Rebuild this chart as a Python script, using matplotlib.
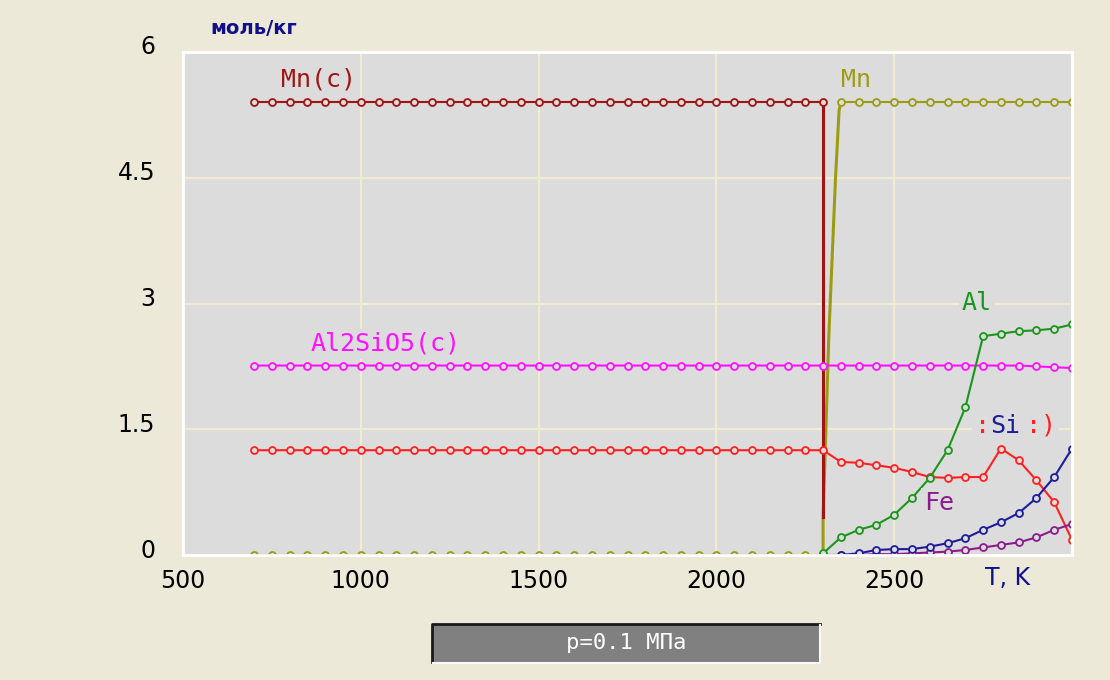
import matplotlib
matplotlib.use("Agg")
import matplotlib.pyplot as plt
from matplotlib.patches import Rectangle
from matplotlib.lines import Line2D
from matplotlib.transforms import ScaledTranslation

# === DATA ===
# temperature grid, K
T_low = [700, 750, 800, 850, 900, 950, 1000, 1050, 1100, 1150, 1200, 1250,
         1300, 1350, 1400, 1450, 1500, 1550, 1600, 1650, 1700, 1750, 1800,
         1850, 1900, 1950, 2000, 2050, 2100, 2150, 2200, 2250, 2300]
T_high = [2300, 2350, 2400, 2450, 2500, 2550, 2600, 2650, 2700, 2750, 2800,
          2850, 2900, 2950, 3000]

# mol/kg
mn_c_low = [5.4] * len(T_low)
mn_c_drop_T = [2300, 2300]
mn_c_drop = [5.4, 0.45]

mn_low = [0.0] * len(T_low)
mn_jump_T = [2300, 2300, 2308, 2316, 2325, 2335, 2345, 2350]
mn_jump = [0.0, 0.45, 1.5, 2.6, 3.5, 4.5, 5.3, 5.4]
mn_high = [5.4] * (len(T_high) - 1)

al2sio5_low = [2.26] * len(T_low)
al2sio5_high = [2.26, 2.26, 2.26, 2.26, 2.26, 2.26, 2.26, 2.26, 2.26, 2.26,
                2.26, 2.26, 2.25, 2.24, 2.23]

sio_low = [1.25] * len(T_low)
sio_high = [1.24, 1.11, 1.10, 1.07, 1.04, 0.99, 0.93, 0.92, 0.93, 0.93,
            1.27, 1.13, 0.89, 0.63, 0.18]

al_high = [0.02, 0.21, 0.30, 0.36, 0.48, 0.68, 0.92, 1.25, 1.76, 2.61,
           2.64, 2.67, 2.68, 2.70, 2.75]
si_high = [0.0, 0.0, 0.02, 0.06, 0.07, 0.07, 0.10, 0.14, 0.20, 0.30,
           0.39, 0.50, 0.68, 0.93, 1.27]
fe_high = [0.0, 0.0, 0.0, 0.01, 0.01, 0.02, 0.03, 0.04, 0.06, 0.09,
           0.12, 0.15, 0.21, 0.30, 0.37]

x_ticks = [500, 1000, 1500, 2000, 2500, 3000]
x_tick_labels = ["500", "1000", "1500", "2000", "2500", ""]
y_ticks = [0, 1.5, 3, 4.5, 6]
y_tick_labels = ["0", "1.5", "3", "4.5", "6"]

# === STYLE ===
FIG_BG = "#ece9d8"
AX_BG = "#dcdcdc"
GRID = "#efecd2"
C_MNC = "#a01414"
C_MN = "#9c9c14"
C_AL2 = "#ff10ff"
C_SIO = "#ff2020"
C_AL = "#1a961a"
C_SI = "#1c1c9c"
C_FE = "#8c1c8c"
NAVY = "#10108c"
MONO = "DejaVu Sans Mono"

fig = plt.figure(figsize=(11.1, 6.8), dpi=100, facecolor=FIG_BG)
ax = fig.add_axes([183 / 1110, 125 / 680, 889 / 1110, 503 / 680])
ax.set_facecolor(AX_BG)
ax.set_xlim(500, 3000)
ax.set_ylim(0, 6)

ax.set_xticks(x_ticks)
ax.set_xticklabels(x_tick_labels)
ax.set_yticks(y_ticks)
ax.set_yticklabels(y_tick_labels)
ax.tick_params(length=0, labelsize=17, labelcolor="black")
ax.tick_params(axis="x", pad=10)
ax.tick_params(axis="y", pad=20)
for lab in ax.get_yticklabels():
    lab.set_transform(lab.get_transform() + ScaledTranslation(0, 7 / 100, fig.dpi_scale_trans))
ax.grid(True, color=GRID, lw=1.6, zorder=0)
ax.set_axisbelow(True)
for sp in ax.spines.values():
    sp.set_color("white")
    sp.set_linewidth(2)


def series(x, y, color, marker=True):
    if marker:
        ax.plot(x, y, color=color, lw=1.5, marker="o", ms=5.0, mew=1.3,
                mfc=AX_BG, mec=color, zorder=2)
    else:
        ax.plot(x, y, color=color, lw=2.2, zorder=2)


# Mn gas
series(T_low, mn_low, C_MN)
series(mn_jump_T, mn_jump, C_MN, marker=False)
series(T_high[1:], mn_high, C_MN)
# Mn(c)
series(mn_c_drop_T, mn_c_drop, C_MNC, marker=False)
series(T_low, mn_c_low, C_MNC)
# Al2SiO5(c)
series(T_low + T_high[1:], al2sio5_low + al2sio5_high[1:], C_AL2)
# red series
series(T_low + T_high[1:], sio_low + sio_high[1:], C_SIO)
# Al, Si, Fe
series(T_high, fe_high, C_FE)
series(T_high, si_high, C_SI)
series(T_high, al_high, C_AL)


def label(x, y, s, color):
    ax.text(x, y, s, color=color, fontsize=18, family=MONO, ha="left", va="center",
            zorder=4, bbox=dict(boxstyle="square,pad=0.12", fc=AX_BG, ec="none"))


label(775, 5.67, "Mn(c)", C_MNC)
label(2350, 5.67, "Mn", C_MN)
label(2690, 3.0, "Al", C_AL)
label(860, 2.52, "Al2SiO5(c)", C_AL2)
label(2728, 1.54, ":", C_SIO)
label(2770, 1.54, "Si", C_SI)
label(2872, 1.54, ":)", C_SIO)
label(2585, 0.62, "Fe", C_FE)

# axis captions
fig.text(210 / 1110, 1 - 28 / 680, "моль/кг", color=NAVY, fontsize=14,
         fontweight="bold", ha="left", va="center")
ax.text(2756, -0.28, "T, K", color=NAVY, fontsize=17, ha="left", va="center")

# pressure box
fig.patches.append(Rectangle((432 / 1110, 1 - 663 / 680), 388 / 1110, 39 / 680,
                             transform=fig.transFigure, fc="#808080", ec="none"))
fig.lines.append(Line2D([432 / 1110, 432 / 1110, 820 / 1110],
                        [1 - 662 / 680, 1 - 624 / 680, 1 - 624 / 680],
                        transform=fig.transFigure, color="#1a1a1a", lw=2))
fig.lines.append(Line2D([433 / 1110, 820 / 1110, 820 / 1110],
                        [1 - 663 / 680, 1 - 663 / 680, 1 - 625 / 680],
                        transform=fig.transFigure, color="#f8f8f8", lw=1.5))
fig.text(626 / 1110, 1 - 643 / 680, "p=0.1 МПа", color="white", fontsize=16,
         family=MONO, ha="center", va="center")

fig.savefig("out.png", dpi=100, facecolor=FIG_BG)
